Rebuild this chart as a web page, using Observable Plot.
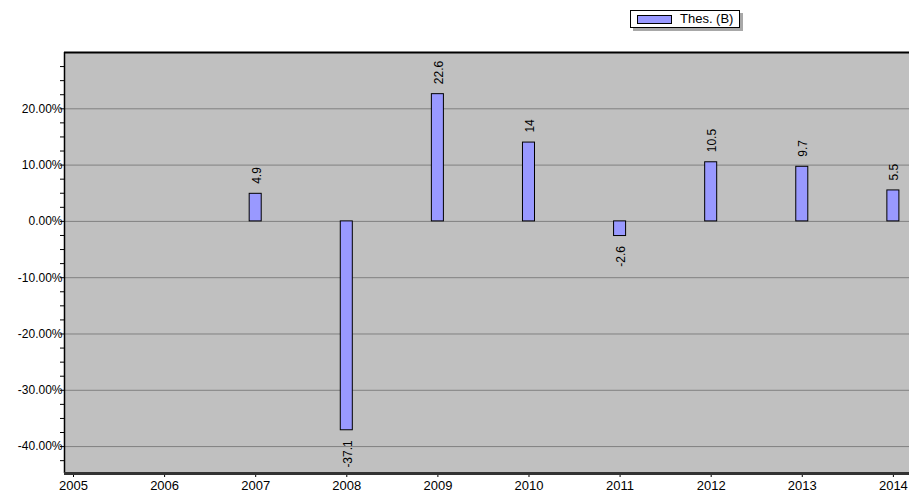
<!DOCTYPE html>
<html>
<head>
<meta charset="utf-8">
<script src="https://cdn.jsdelivr.net/npm/d3@7"></script>
<script src="https://cdn.jsdelivr.net/npm/@observablehq/plot@0.6"></script>
<style>
  body { margin: 0; background: white; font-family: "Liberation Sans", Arial, sans-serif; }
  #wrap { position: relative; width: 909px; height: 493px; }
  #legend { position: absolute; left: 630px; top: 10px; width: 108px; height: 16px; border: 1px solid black; background: white; box-shadow: 3px 3px 0 #a8a8a8; }
  #legend .sw { position: absolute; left: 6px; top: 4px; width: 33px; height: 7px; border: 1px solid black; background: #9999ff; }
  #legend .tx { position: absolute; left: 49px; top: 0px; font-size: 13px; line-height: 16px; color: black; }
  g[aria-label^="x-axis"] text { font-size: 13px; }
</style>
</head>
<body>
<div id="wrap">
  <div id="chart"></div>
  <div id="legend"><div class="sw"></div><div class="tx">Thes. (B)</div></div>
</div>
<script>
const seriesName = "Thes. (B)";
const years = [2007, 2008, 2009, 2010, 2011, 2012, 2013, 2014];
const values = [4.9, -37.1, 22.6, 14, -2.6, 10.5, 9.7, 5.5];
const valueLabels = ["4.9", "-37.1", "22.6", "14", "-2.6", "10.5", "9.7", "5.5"];
const xTicks = [2005, 2006, 2007, 2008, 2009, 2010, 2011, 2012, 2013, 2014];
const yMajorTicks = [-40, -30, -20, -10, 0, 10, 20];
const yMinorTicks = [-42.5, -40, -37.5, -35, -32.5, -30, -27.5, -25, -22.5, -20, -17.5, -15, -12.5, -10, -7.5, -5, -2.5, 0, 2.5, 5, 7.5, 10, 12.5, 15, 17.5, 20, 22.5, 25, 27.5];

const xDomain = [2004.9012, 2014.177];
const yDomain = [-44.78, 30.0];

const data = years.map((y, i) => ({year: y, value: values[i], label: valueLabels[i]}));
const pos = data.filter(d => d.value >= 0);
const neg = data.filter(d => d.value < 0);
const halfBar = 0.066;

const chart = Plot.plot({
  width: 909,
  height: 493,
  marginLeft: 64,
  marginRight: 0,
  marginTop: 52,
  marginBottom: 20,
  style: {fontFamily: "Liberation Sans, Arial, sans-serif", fontSize: "12px", background: "white", color: "black", overflow: "visible"},
  x: {domain: xDomain, ticks: xTicks, tickFormat: d => String(d), tickSize: 4, tickPadding: 3, label: null},
  y: {domain: yDomain, ticks: yMinorTicks, tickFormat: d => (yMajorTicks.includes(d) ? d.toFixed(2) + "%" : ""), tickSize: 4, tickPadding: -2, label: null},
  marks: [
    Plot.frame({fill: "#c0c0c0", stroke: "none"}),
    Plot.ruleY(yMajorTicks, {stroke: "#808080", strokeWidth: 1}),
    Plot.rectY(data, {x1: d => d.year - halfBar, x2: d => d.year + halfBar, y1: 0, y2: "value", fill: "#9999ff", stroke: "black", strokeWidth: 1}),
    Plot.text(pos, {x: "year", y: "value", text: "label", rotate: -90, textAnchor: "start", dy: -10, dx: 1, fontSize: 12, fill: "black"}),
    Plot.text(neg, {x: "year", y: "value", text: "label", rotate: -90, textAnchor: "end", dy: 10, dx: 1, fontSize: 12, fill: "black"}),
    Plot.ruleX([xDomain[0]], {stroke: "black", strokeWidth: 1.5}),
    Plot.ruleY([yDomain[1]], {stroke: "black", strokeWidth: 2}),
    Plot.ruleY([yDomain[0]], {stroke: "#333333", strokeWidth: 3})
  ]
});
document.getElementById("chart").appendChild(chart);
</script>
</body>
</html>
